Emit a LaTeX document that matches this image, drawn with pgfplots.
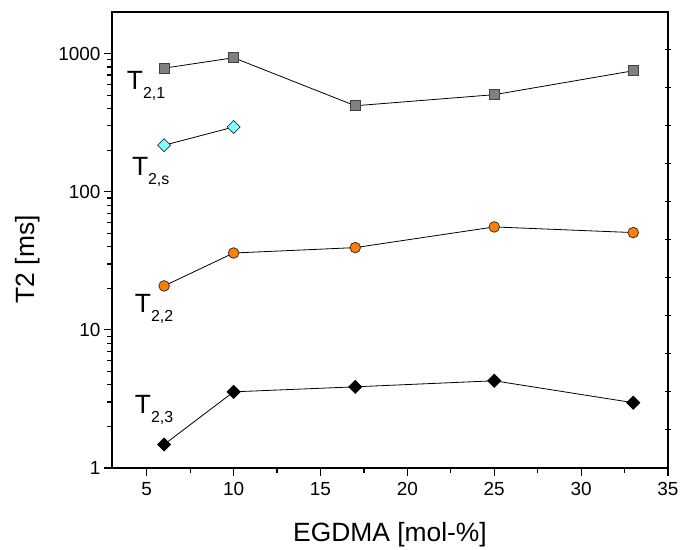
\documentclass[border=0pt]{standalone}
\usepackage{pgfplots}
\pgfplotsset{compat=1.18}
\usepackage{fontspec}
\setmainfont{Liberation Sans}

\definecolor{sqgray}{RGB}{128,128,128}
\definecolor{lcyan}{RGB}{128,255,255}
\definecolor{dorange}{RGB}{255,128,0}

% subscript set lower and smaller than the relaxation-time symbol
\newcommand{\sub}[1]{\raisebox{-9bp}{\fontsize{16}{16}\selectfont #1}}

\begin{document}
\begin{tikzpicture}
\useasboundingbox (-112bp,-82bp) rectangle (571bp,468bp);
\begin{axis}[
  at={(0,0)}, anchor=south west,
  scale only axis, width=556bp, height=456bp,
  xmin=3, xmax=35,
  ymode=log, ymin=1, ymax=2000,
  xtick={5,10,...,35}, minor xtick={7.5,12.5,...,32.5},
  ytick={1,10,100,1000}, yticklabels={1,10,100,1000},
  minor ytick={2,3,4,5,6,7,8,9,20,30,40,50,60,70,80,90,200,300,400,500,600,700,800,900},
  xtick pos=left, ytick pos=left, tick align=outside,
  major tick length=8bp, minor tick length=5bp,
  every tick/.style={black, line width=1.2bp},
  axis line style={line width=1.8bp},
  tick label style={font=\fontsize{19}{20}\selectfont},
  xticklabel style={yshift=-3bp},
  /pgf/number format/assume math mode=true,
  xlabel={EGDMA [mol-\%]},
  ylabel={T2 [ms]},
  every axis x label/.style={at={(axis description cs:0.5,-0.147)}, anchor=center},
  every axis y label/.style={at={(axis description cs:-0.152,0.458)}, rotate=90, anchor=center},
  label style={font=\fontsize{26.5}{30}\selectfont},
  clip=false,
]
% T2,1
\addplot[black, line width=0.8bp, mark=square*, mark size=5bp,
  mark options={fill=sqgray, draw=black!75, line width=0.8bp}]
  coordinates {(6,784) (10,933) (17,419) (25,504) (33,751)};
% T2,s
\addplot[black, line width=0.8bp, mark=square*, mark size=4.6bp,
  mark options={fill=lcyan, draw=black!80, line width=0.8bp, rotate=45}]
  coordinates {(6,217) (10,294)};
% T2,2
\addplot[black, line width=0.8bp, mark=*, mark size=5.3bp,
  mark options={fill=dorange, draw=black!80, line width=0.8bp}]
  coordinates {(6,20.8) (10,36) (17,39.4) (25,55.6) (33,50.6)};
% T2,3
\addplot[black, line width=0.8bp, mark=square*, mark size=4.6bp,
  mark options={fill=black, draw=black, line width=0.8bp, rotate=45}]
  coordinates {(6,1.48) (10,3.56) (17,3.87) (25,4.28) (33,2.97)};

\begin{scope}[every node/.style={anchor=base west, inner sep=0pt, font=\fontsize{26.5}{30}\selectfont}]
\node at (axis cs:3.85,550)  {T\sub{2,1}};
\node at (axis cs:4.14,131.4) {T\sub{2,s}};
\node at (axis cs:4.31,13.4) {T\sub{2,2}};
\node at (axis cs:4.31,2.50) {T\sub{2,3}};
\end{scope}
\end{axis}

% evenly spaced tick marks along the right-hand frame
\begin{axis}[
  at={(0,0)}, anchor=south west,
  scale only axis, width=556bp, height=456bp,
  xmin=3, xmax=35, ymin=0, ymax=12,
  hide x axis,
  axis line style={draw=none},
  ytick={1,2,...,11}, yticklabels={},
  ytick pos=right, tick align=center,
  major tick length=6bp,
  every tick/.style={black, line width=1bp},
]
\end{axis}
\end{tikzpicture}
\end{document}
